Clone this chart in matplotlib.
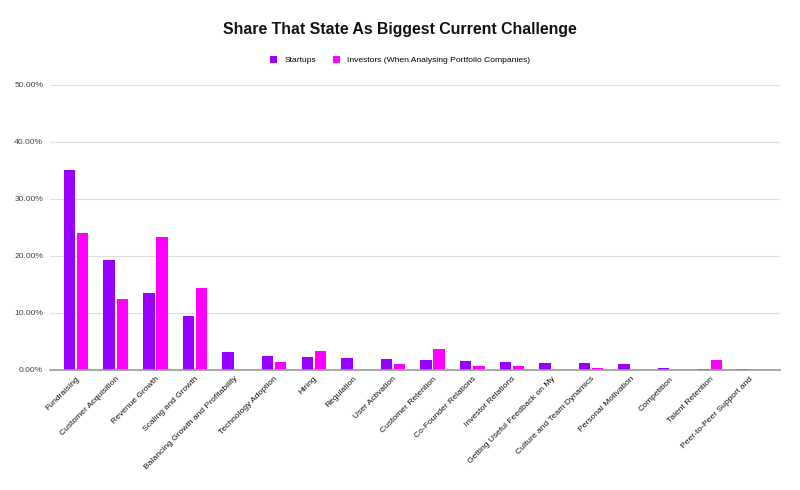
import matplotlib
matplotlib.use("Agg")
import matplotlib.pyplot as plt
import numpy as np
from matplotlib.ticker import PercentFormatter

plt.rcParams['font.family'] = ['Liberation Sans', 'DejaVu Sans']

categories = ["Fundraising", "Customer Acquisition", "Revenue Growth", "Scaling and Growth",
              "Balancing Growth and Profitability", "Technology Adoption", "Hiring", "Regulation",
              "User Activation", "Customer Retention", "Co-Founder Relations", "Investor Relations",
              "Getting Useful Feedback on My", "Culture and Team Dynamics", "Personal Motivation",
              "Competition", "Talent Retention", "Peer-to-Peer Support and"]
startups = [35.1, 19.3, 13.5, 9.5, 3.2, 2.5, 2.2, 2.1, 2.0, 1.75, 1.5, 1.45, 1.3, 1.3, 1.05, 0.35, 0.25, 0.25]
investors = [24.1, 12.5, 23.4, 14.3, 0, 1.4, 3.4, 0, 1.1, 3.7, 0.75, 0.75, 0, 0.35, 0, 0, 1.8, 0]
series_names = ["Startups", "Investors (When Analysing Portfolio Companies)"]
yticks = [0, 10, 20, 30, 40, 50]

c1 = "#9900ff"
c2 = "#ff00ff"

fig = plt.figure(figsize=(8, 4.9), dpi=100)
ax = fig.add_axes([0.0625, 0.245, 0.9125, 0.5816])

x = np.arange(len(categories))
w = 0.29
ax.bar(x - 0.165, startups, width=w, color=c1, label=series_names[0], zorder=3)
ax.bar(x + 0.165, investors, width=w, color=c2, label=series_names[1], zorder=3)

ax.set_xlim(-0.66, 17.77)
ax.set_ylim(0, 50)
ax.set_yticks(yticks)
ax.yaxis.set_major_formatter(PercentFormatter(decimals=2))
ax.grid(axis='y', color='#e0e0e0', linewidth=0.9, zorder=0)
for s in ['top', 'right', 'left']:
    ax.spines[s].set_visible(False)
ax.spines['bottom'].set_color('#999999')
ax.spines['bottom'].set_linewidth(1.2)
ax.spines['bottom'].set_zorder(4)
ax.tick_params(axis='y', length=0, labelsize=6.1, labelcolor='#444444', pad=5)
ax.tick_params(axis='x', length=0, pad=4)
ax.set_xticks(x)
ax.set_xticklabels(categories, rotation=45, ha='right', rotation_mode='anchor',
                   fontsize=6.1, color='#111111')

fig.text(0.5, 0.94, "Share That State As Biggest Current Challenge", ha='center', va='center',
         fontsize=11.4, fontweight='bold', color='#111111')
fig.legend(loc='center', bbox_to_anchor=(0.5, 0.877), ncol=2, frameon=False, fontsize=6.1,
           handlelength=0.9, handleheight=0.9, columnspacing=2.0, handletextpad=0.8)

fig.savefig("out.png", dpi=100)
